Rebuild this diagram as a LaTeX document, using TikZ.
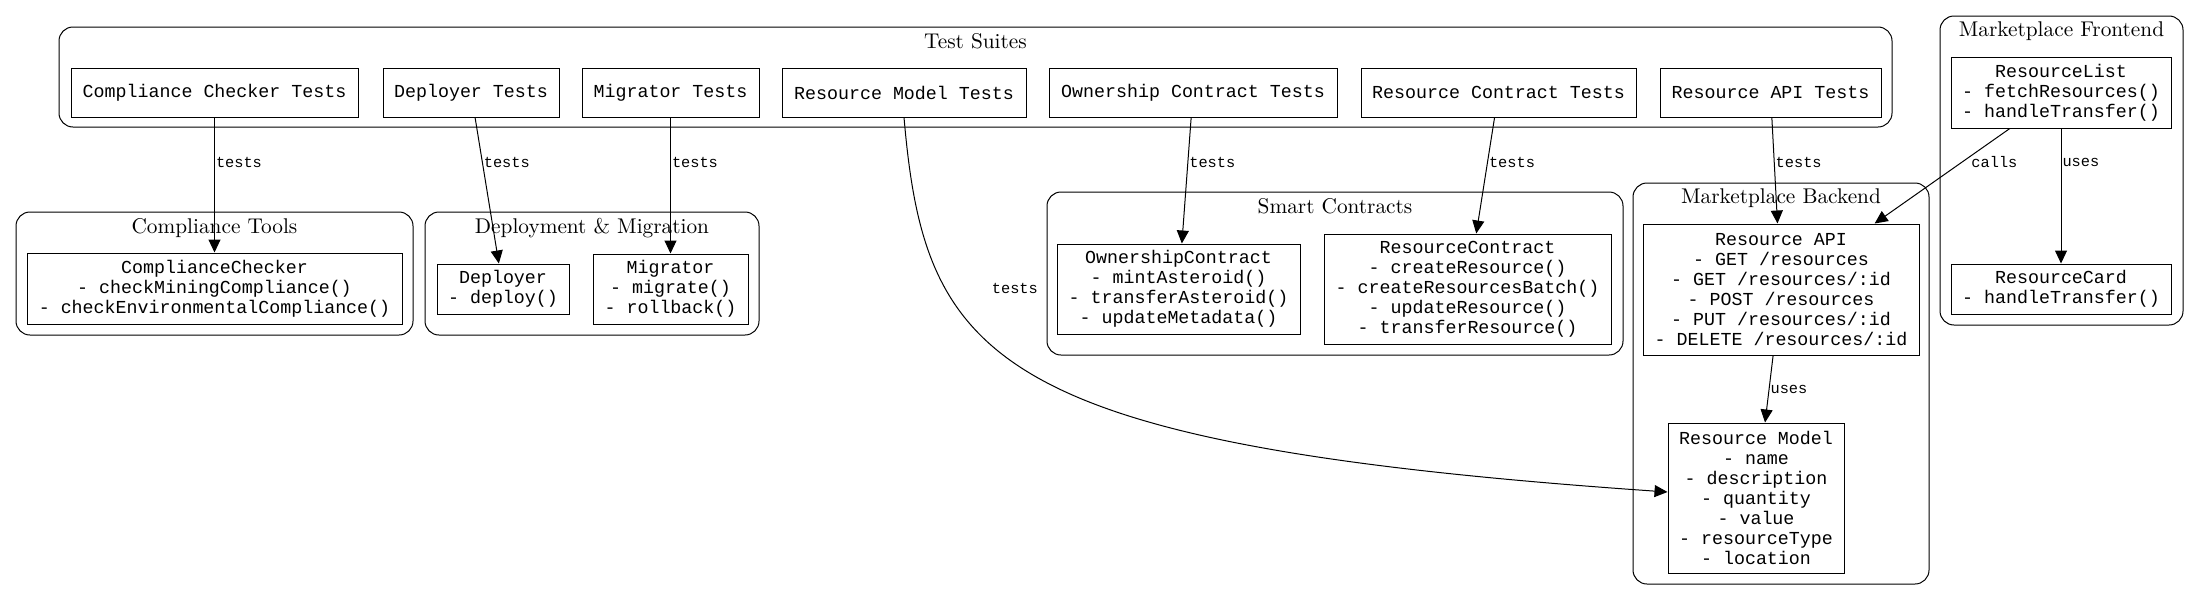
\documentclass[tikz,border=0pt]{standalone}
\usepackage{fontspec}
\newfontfamily\monof{Liberation Mono}
\newfontfamily\titlef[Extension=.otf]{lmroman10-regular}
\usetikzlibrary{arrows.meta}
\begin{document}
\begin{tikzpicture}[x=1pt,y=-1pt,
  box/.style={draw, line width=1pt, inner sep=0pt, align=center,
    font=\monof\fontsize{18.3pt}{20pt}\selectfont},
  cluster/.style={draw, line width=1pt, rounded corners=14pt, inner sep=0pt},
  ttl/.style={anchor=base, inner sep=0pt, font=\titlef\fontsize{21.3pt}{24pt}\selectfont},
  lbl/.style={font=\monof\fontsize{15.3pt}{16pt}\selectfont, inner sep=1pt, anchor=west},
  arr/.style={line width=1pt, -{Triangle[length=13pt,width=12pt]}}]
\useasboundingbox (0,0) rectangle (2199,600);

% clusters
\node[cluster, minimum width=1833pt, minimum height=100pt] (cTS) at (975.5,77) {};
\node[cluster, minimum width=397pt, minimum height=123pt] (cCT) at (214.5,273.5) {};
\node[cluster, minimum width=334pt, minimum height=123pt] (cDM) at (592,273.5) {};
\node[cluster, minimum width=576pt, minimum height=163pt] (cSC) at (1335,273.5) {};
\node[cluster, minimum width=296pt, minimum height=401pt] (cMB) at (1781,383.5) {};
\node[cluster, minimum width=243pt, minimum height=309pt] (cMF) at (2061.5,170.5) {};

\node[ttl] (tTS) at (975.5,48) {Test Suites};
\node[ttl] (tCT) at (214.5,233) {Compliance Tools};
\node[ttl] (tDM) at (592,233) {Deployment \& Migration};
\node[ttl] (tSC) at (1335,213) {Smart Contracts};
\node[ttl] (tMB) at (1781,203) {Marketplace Backend};
\node[ttl] (tMF) at (2061.5,36) {Marketplace Frontend};

% test nodes
\node[box, minimum width=287pt, minimum height=49pt] (cct) at (214.5,92.5) {Compliance Checker Tests};
\node[box, minimum width=176pt, minimum height=49pt] (dt) at (471,92.5) {Deployer Tests};
\node[box, minimum width=177pt, minimum height=49pt] (mt) at (670.5,92.5) {Migrator Tests};
\node[box, minimum width=244pt, minimum height=49pt] (rmt) at (904,92.5) {Resource Model Tests};
\node[box, minimum width=288pt, minimum height=49pt] (oct) at (1193,92.5) {Ownership Contract Tests};
\node[box, minimum width=275pt, minimum height=49pt] (rct) at (1498.5,92.5) {Resource Contract Tests};
\node[box, minimum width=221pt, minimum height=49pt] (rat) at (1770.5,92.5) {Resource API Tests};

% components
\node[box, minimum width=375pt, minimum height=71pt] (cc) at (214.5,288.5)
  {ComplianceChecker\\- checkMiningCompliance()\\- checkEnvironmentalCompliance()};
\node[box, minimum width=132pt, minimum height=50pt] (dep) at (503,289)
  {Deployer\\- deploy()};
\node[box, minimum width=155pt, minimum height=70pt] (mig) at (670.5,289)
  {Migrator\\- migrate()\\- rollback()};
\node[box, minimum width=243pt, minimum height=90pt] (oc) at (1178.5,289)
  {OwnershipContract\\- mintAsteroid()\\- transferAsteroid()\\- updateMetadata()};
\node[box, minimum width=287pt, minimum height=110pt] (rc) at (1467.5,289)
  {ResourceContract\\- createResource()\\- createResourcesBatch()\\- updateResource()\\- transferResource()};
\node[box, minimum width=276pt, minimum height=131pt] (ra) at (1781,289.5)
  {Resource API\\- GET /resources\\- GET /resources/:id\\- POST /resources\\- PUT /resources/:id\\- DELETE /resources/:id};
\node[box, minimum width=176pt, minimum height=150pt] (rm) at (1756,498)
  {Resource Model\\- name\\- description\\- quantity\\- value\\- resourceType\\- location};
\node[box, minimum width=220pt, minimum height=71pt] (rl) at (2061,92.5)
  {ResourceList\\- fetchResources()\\- handleTransfer()};
\node[box, minimum width=220pt, minimum height=50pt] (rcard) at (2061,289)
  {ResourceCard\\- handleTransfer()};

% connectors
\draw[arr] (cct) -- node[lbl, pos=0.331] (l1) {tests} (cc);
\draw[arr] (dt) -- node[lbl, pos=0.306] (l2) {tests} (dep);
\draw[arr] (mt) -- node[lbl, pos=0.328] (l3) {tests} (mig);
\draw[arr] (oct) -- node[lbl, pos=0.354] (l4) {tests} (oc);
\draw[arr] (rct) -- node[lbl, pos=0.385] (l5) {tests} (rc);
\draw[arr] (rat) -- node[lbl, pos=0.42] (l6) {tests} (ra);
\draw[arr] (rl) -- node[lbl, pos=0.354, xshift=8pt] (l7) {calls} (ra);
\draw[arr] (rl) -- node[lbl, pos=0.25] (l8) {uses} (rcard);
\draw[arr] (ra) -- node[lbl, pos=0.5] (l9) {uses} (rm);
\draw[arr] (rmt.south) .. controls (925,360) and (990,445) .. ([yshift=6pt]rm.west);
\node[lbl, anchor=east] (l10) at (1039,288) {tests};
\end{tikzpicture}
\end{document}
